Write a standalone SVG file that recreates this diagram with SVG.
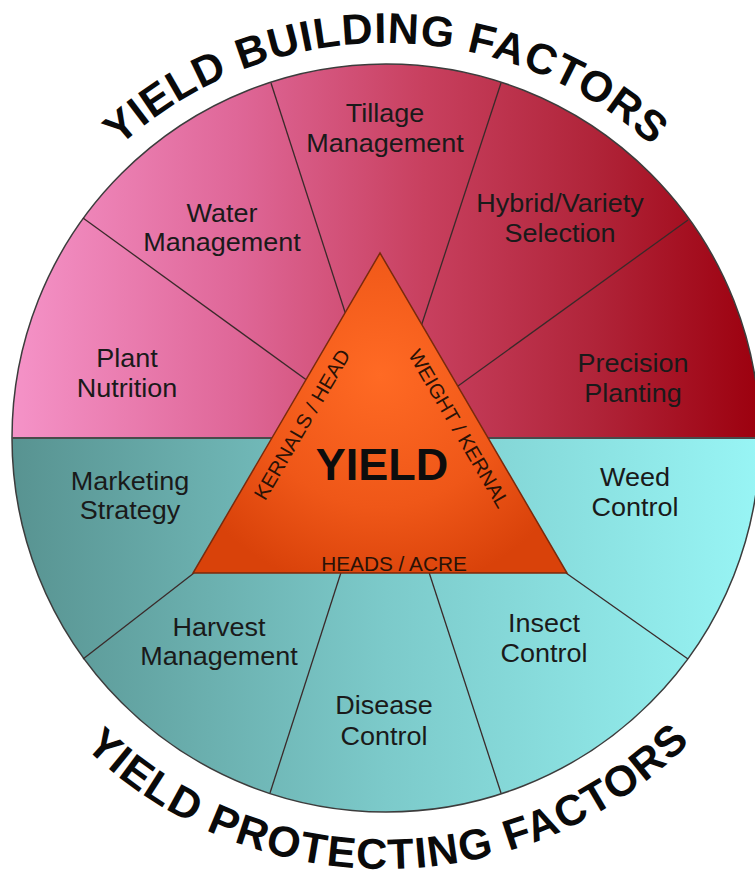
<svg xmlns="http://www.w3.org/2000/svg" width="755" height="875" viewBox="0 0 755 875">
  <defs>
    <linearGradient id="gTop" gradientUnits="userSpaceOnUse" x1="12" y1="0" x2="760" y2="0">
      <stop offset="0" stop-color="#f593c8"/>
      <stop offset="0.3" stop-color="#df6798"/>
      <stop offset="0.55" stop-color="#c8405f"/>
      <stop offset="0.78" stop-color="#b02439"/>
      <stop offset="1" stop-color="#9c000e"/>
    </linearGradient>
    <linearGradient id="gBot" gradientUnits="userSpaceOnUse" x1="12" y1="0" x2="760" y2="0">
      <stop offset="0" stop-color="#589391"/>
      <stop offset="0.5" stop-color="#7ccaca"/>
      <stop offset="1" stop-color="#98f5f5"/>
    </linearGradient>
    <radialGradient id="gTri" gradientUnits="userSpaceOnUse" cx="380" cy="375" r="220">
      <stop offset="0" stop-color="#ff6a24"/>
      <stop offset="0.6" stop-color="#ef5718"/>
      <stop offset="1" stop-color="#d9420a"/>
    </radialGradient>
    <path id="arcTop" d="M -9,438 A 395 395 0 0 1 781,438"/>
    <path id="arcBot" d="M -46,438 A 431 431 0 0 0 816,438"/>
    <style>
      .lbl { font-family: "Liberation Sans", Arial, sans-serif; font-size: 25px; fill: #1a1a1a; text-anchor: middle; }
      .tri { font-family: "Liberation Sans", Arial, sans-serif; font-size: 20px; fill: #2a1206; text-anchor: middle; }
      .title { font-family: "Liberation Sans", Arial, sans-serif; font-size: 43px; font-weight: bold; fill: #0a0a0a; }
      .spoke { stroke: #3a2a2a; stroke-width: 1.3; fill: none; }
    </style>
  </defs>

  <rect x="0" y="0" width="755" height="875" fill="#ffffff"/>

  <g id="wheel">
    <path d="M 12,438 A 374 374 0 0 1 760,438 Z" fill="url(#gTop)"/>
    <path d="M 12,438 A 374 374 0 0 0 760,438 Z" fill="url(#gBot)"/>
    <circle cx="386" cy="438" r="374" fill="none" stroke="#3c3c3c" stroke-width="1.5"/>
    <line x1="12" y1="438" x2="760" y2="438" stroke="#4a4a4a" stroke-width="2"/>
  </g>

  <g id="connectors">
    <line class="spoke" x1="83" y1="218" x2="330" y2="397"/>
    <line class="spoke" x1="271" y1="83" x2="355" y2="343"/>
    <line class="spoke" x1="501" y1="83" x2="412" y2="354"/>
    <line class="spoke" x1="688" y1="220" x2="440" y2="399"/>
    <line class="spoke" x1="83" y1="659" x2="194" y2="573"/>
    <line class="spoke" x1="270" y1="793" x2="345" y2="560"/>
    <line class="spoke" x1="501" y1="793" x2="425" y2="560"/>
    <line class="spoke" x1="688" y1="659" x2="566" y2="573"/>
  </g>

  <g id="seg-plant-nutrition">
    <text class="lbl" transform="translate(127,0) scale(1.08,1)"><tspan x="0" y="367">Plant</tspan><tspan x="0" y="397">Nutrition</tspan></text>
  </g>
  <g id="seg-water-management">
    <text class="lbl" transform="translate(222,0) scale(1.08,1)"><tspan x="0" y="222">Water</tspan><tspan x="0" y="251">Management</tspan></text>
  </g>
  <g id="seg-tillage-management">
    <text class="lbl" transform="translate(385,0) scale(1.08,1)"><tspan x="0" y="122">Tillage</tspan><tspan x="0" y="152">Management</tspan></text>
  </g>
  <g id="seg-hybrid-variety">
    <text class="lbl" transform="translate(560,0) scale(1.08,1)"><tspan x="0" y="212">Hybrid/Variety</tspan><tspan x="0" y="242">Selection</tspan></text>
  </g>
  <g id="seg-precision-planting">
    <text class="lbl" transform="translate(633,0) scale(1.08,1)"><tspan x="0" y="372">Precision</tspan><tspan x="0" y="402">Planting</tspan></text>
  </g>
  <g id="seg-marketing-strategy">
    <text class="lbl" transform="translate(130,0) scale(1.08,1)"><tspan x="0" y="490">Marketing</tspan><tspan x="0" y="519">Strategy</tspan></text>
  </g>
  <g id="seg-weed-control">
    <text class="lbl" transform="translate(635,0) scale(1.08,1)"><tspan x="0" y="486">Weed</tspan><tspan x="0" y="516">Control</tspan></text>
  </g>
  <g id="seg-harvest-management">
    <text class="lbl" transform="translate(219,0) scale(1.08,1)"><tspan x="0" y="636">Harvest</tspan><tspan x="0" y="665">Management</tspan></text>
  </g>
  <g id="seg-insect-control">
    <text class="lbl" transform="translate(544,0) scale(1.08,1)"><tspan x="0" y="632">Insect</tspan><tspan x="0" y="662">Control</tspan></text>
  </g>
  <g id="seg-disease-control">
    <text class="lbl" transform="translate(384,0) scale(1.08,1)"><tspan x="0" y="714">Disease</tspan><tspan x="0" y="745">Control</tspan></text>
  </g>

  <g id="yield-triangle">
    <polygon points="380,253 567,573 193,573" fill="url(#gTri)" stroke="#7a2a0c" stroke-width="1.5" stroke-linejoin="miter"/>
    <text x="382" y="480" text-anchor="middle" font-family="'Liberation Sans', Arial, sans-serif" font-size="45" font-weight="bold" fill="#0d0d0d">YIELD</text>
    <text class="tri" transform="translate(308,428) rotate(-59.7) scale(1.03,1)" x="0" y="0">KERNALS / HEAD</text>
    <text class="tri" transform="translate(453,432) rotate(59.7) scale(1.02,1)" x="0" y="0">WEIGHT / KERNAL</text>
    <text class="tri" transform="translate(394,571) scale(1.04,1)" x="0" y="0">HEADS / ACRE</text>
  </g>

  <g id="title-building">
    <text class="title" letter-spacing="1"><textPath href="#arcTop" startOffset="50%" text-anchor="middle">YIELD BUILDING FACTORS</textPath></text>
  </g>
  <g id="title-protecting">
    <text class="title" letter-spacing="1.5"><textPath href="#arcBot" startOffset="50.3%" text-anchor="middle">YIELD PROTECTING FACTORS</textPath></text>
  </g>
</svg>
